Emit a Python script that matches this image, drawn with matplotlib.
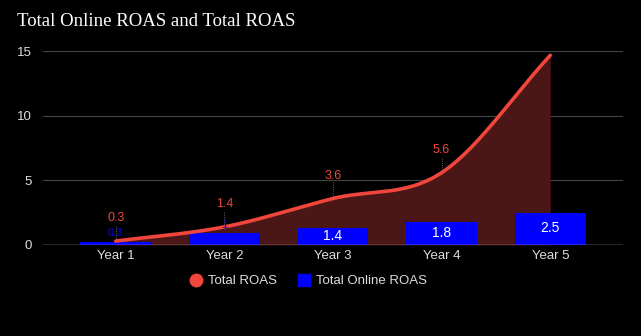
import numpy as np
import matplotlib
matplotlib.use("Agg")
import matplotlib.pyplot as plt
from matplotlib.lines import Line2D

plt.rcParams["font.family"] = ["Liberation Sans", "DejaVu Sans"]

categories = ["Year 1", "Year 2", "Year 3", "Year 4", "Year 5"]
total_roas = [0.3, 1.4, 3.6, 5.6, 14.7]
online_roas = [0.25, 0.9, 1.35, 1.8, 2.5]
roas_labels = ["0.3", "1.4", "3.6", "5.6", ""]
online_labels = ["0.3", "1", "1.4", "1.8", "2.5"]
yticks = [0, 5, 10, 15]

BG = "black"
RED = "#f0463c"
FILL = "#4a1616"
BLUE = "#0000ff"

fig = plt.figure(figsize=(6.41, 3.36), dpi=100, facecolor=BG)
ax = fig.add_axes([0.067, 0.271, 0.905, 0.576], facecolor=BG)

x = np.arange(len(categories))
ys = np.array(total_roas, dtype=float)

# smooth curve (Catmull-Rom through the data points)
def catmull(xp, yp, n=40):
    px = np.concatenate([[2*xp[0]-xp[1]], xp, [2*xp[-1]-xp[-2]]])
    py = np.concatenate([[2*yp[0]-yp[1]], yp, [2*yp[-1]-yp[-2]]])
    xs, yv = [], []
    for i in range(1, len(px)-2):
        t = np.linspace(0, 1, n, endpoint=(i == len(px)-3))
        f = lambda a0, a1, a2, a3: 0.5*((2*a1) + (-a0+a2)*t + (2*a0-5*a1+4*a2-a3)*t**2 + (-a0+3*a1-3*a2+a3)*t**3)
        xs.append(f(px[i-1], px[i], px[i+1], px[i+2]))
        yv.append(f(py[i-1], py[i], py[i+1], py[i+2]))
    return np.concatenate(xs), np.concatenate(yv)

sx, sy = catmull(x.astype(float), ys)

for yt in yticks[1:]:
    ax.axhline(yt, color="#444444", lw=0.8, zorder=0)
ax.axhline(0, color="#cccccc", lw=1.0, zorder=4)

ax.fill_between(sx, 0, sy, color=FILL, zorder=1, lw=0)
ax.bar(x, online_roas, width=0.65, color=BLUE, zorder=2)
ax.plot(sx, sy, color=RED, lw=2.6, solid_capstyle="round", zorder=3)

# bar labels
for i, (v, lab) in enumerate(zip(online_roas, online_labels)):
    if v >= 1.2:
        ax.text(x[i], v/2 + 0.05, lab, color="white", ha="center", va="center", fontsize=10, zorder=5)
    else:
        ax.text(x[i], v + 0.65, lab, color=BLUE, ha="center", va="center", fontsize=8, zorder=4.5)

# line labels with leader lines
for i, (v, lab) in enumerate(zip(ys, roas_labels)):
    if not lab:
        continue
    ly = v + 1.75
    ax.plot([x[i], x[i]], [v + 0.2, ly - 0.5], color="#888888", lw=0.6, ls=":", zorder=4)
    ax.text(x[i], ly, lab, color=RED, ha="center", va="center", fontsize=9, zorder=5)

ax.set_xlim(-0.67, 4.67)
ax.set_ylim(0, 15)
ax.set_xticks(x)
ax.set_xticklabels(categories, color="#dddddd", fontsize=9.5)
ax.set_yticks(yticks)
ax.set_yticklabels([str(t) for t in yticks], color="#dddddd", fontsize=9.5)
ax.tick_params(length=0, pad=4)
ax.tick_params(axis="y", pad=8)
for s in ax.spines.values():
    s.set_visible(False)

fig.text(0.027, 0.935, "Total Online ROAS and Total ROAS", color="white",
         fontsize=13.5, family="Liberation Serif", va="center", ha="left")

handles = [Line2D([], [], marker="o", ls="none", markersize=9, markerfacecolor=RED, markeredgecolor=RED),
           Line2D([], [], marker="s", ls="none", markersize=9, markerfacecolor=BLUE, markeredgecolor=BLUE)]
fig.legend(handles, ["Total ROAS", "Total Online ROAS"], loc="center", bbox_to_anchor=(0.48, 0.163),
           ncol=2, frameon=False, fontsize=9.5, labelcolor="#dddddd", handletextpad=0.3,
           columnspacing=1.5, handlelength=1.2)

fig.savefig("out.png", dpi=100, facecolor=BG)
